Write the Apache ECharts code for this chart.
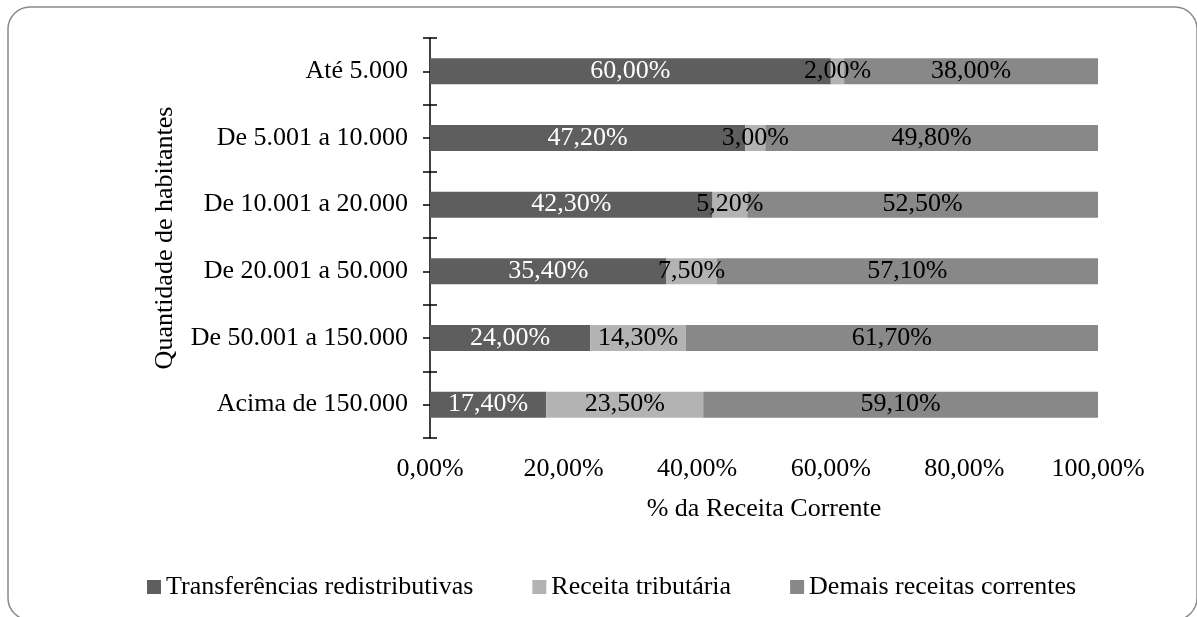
<!DOCTYPE html>
<html>
<head>
<meta charset="utf-8">
<script src="https://cdn.jsdelivr.net/npm/echarts@6/dist/echarts.min.js"></script>
<style>
  html, body { margin: 0; padding: 0; background: #fff; }
  #chart { width: 1197px; height: 617px; }
</style>
</head>
<body>
<div id="chart"></div>
<script>
// faixas de população (de cima para baixo)
var categorias = ['Até 5.000', 'De 5.001 a 10.000', 'De 10.001 a 20.000', 'De 20.001 a 50.000', 'De 50.001 a 150.000', 'Acima de 150.000'];
var transferencias = [60.0, 47.2, 42.3, 35.4, 24.0, 17.4];
var tributaria = [2.0, 3.0, 5.2, 7.5, 14.3, 23.5];
var demais = [38.0, 49.8, 52.5, 57.1, 61.7, 59.1];
var nomesSeries = ['Transferências redistributivas', 'Receita tributária', 'Demais receitas correntes'];

var fonte = 'Liberation Serif';
var tam = 26;
var chart = echarts.init(document.getElementById('chart'));

function pct(v) {
    return v.toFixed(2).replace('.', ',') + '%';
}

function serie(nome, dados, cor, corTexto) {
    return {
        name: nome,
        type: 'bar',
        stack: 'total',
        barWidth: 26,
        data: dados,
        itemStyle: { color: cor },
        label: {
            show: true,
            position: 'inside',
            color: corTexto,
            fontFamily: fonte,
            fontSize: tam,
            formatter: function (p) { return pct(p.value); }
        }
    };
}

var tick = { show: true, length: 7, lineStyle: { color: '#000', width: 1.5 } };

var option = {
    animation: false,
    graphic: [{
        type: 'rect',
        shape: { x: 8, y: 7, width: 1189, height: 613, r: 22 },
        style: { fill: 'none', stroke: '#8a8a8a', lineWidth: 1.5 },
        silent: true
    }],
    grid: { left: 430, right: 99, top: 38, bottom: 179 },
    legend: {
        top: 569,
        left: 142,
        icon: 'rect',
        itemWidth: 14,
        itemHeight: 14,
        itemGap: 59,
        textStyle: { fontFamily: fonte, fontSize: tam, color: '#000' },
        data: nomesSeries
    },
    xAxis: {
        type: 'value',
        min: 0,
        max: 100,
        interval: 20,
        name: '% da Receita Corrente',
        nameLocation: 'middle',
        nameGap: 58,
        nameTextStyle: { fontFamily: fonte, fontSize: tam, color: '#000' },
        axisLine: { show: false },
        axisTick: { show: false },
        splitLine: { show: false },
        axisLabel: {
            margin: 18,
            fontFamily: fonte,
            fontSize: tam,
            color: '#000',
            formatter: pct
        }
    },
    yAxis: [{
        type: 'category',
        data: categorias,
        inverse: true,
        position: 'left',
        name: 'Quantidade de habitantes',
        nameLocation: 'middle',
        nameGap: 252,
        nameTextStyle: { fontFamily: fonte, fontSize: tam, color: '#000' },
        axisLine: { show: true, lineStyle: { color: '#000', width: 1.5 } },
        axisTick: tick,
        axisLabel: { margin: 22, fontFamily: fonte, fontSize: tam, color: '#000' }
    }, {
        type: 'category',
        data: categorias,
        inverse: true,
        position: 'left',
        offset: 0,
        axisLine: { show: false },
        axisTick: { show: true, inside: true, length: 7, lineStyle: { color: '#000', width: 1.5 } },
        axisLabel: { show: false }
    }, {
        type: 'category',
        data: categorias,
        inverse: true,
        position: 'left',
        offset: 0,
        axisLine: { show: false },
        axisTick: { show: true, alignWithLabel: true, length: 7, lineStyle: { color: '#000', width: 1.5 } },
        axisLabel: { show: false }
    }],
    series: [
        serie(nomesSeries[0], transferencias, '#5e5e5e', '#fff'),
        serie(nomesSeries[1], tributaria, '#b3b3b3', '#000'),
        serie(nomesSeries[2], demais, '#888888', '#000')
    ]
};

chart.setOption(option);
</script>
</body>
</html>
